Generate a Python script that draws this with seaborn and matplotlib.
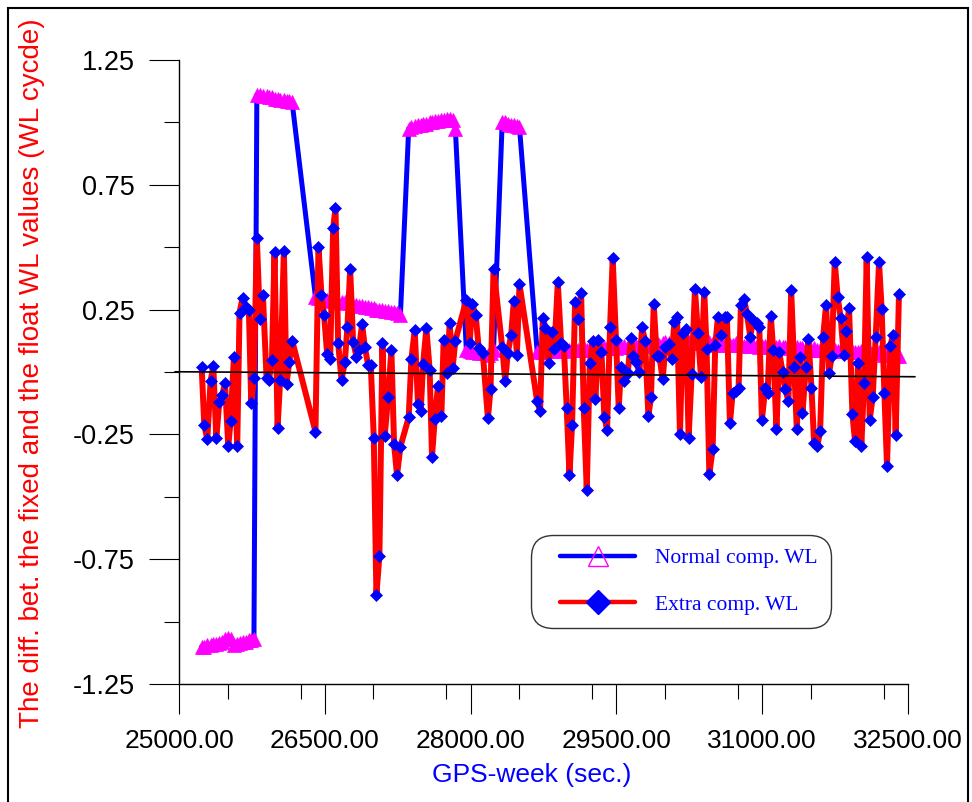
import matplotlib
matplotlib.use('Agg')
import matplotlib.pyplot as plt
import seaborn as sns
import pandas as pd
from matplotlib.lines import Line2D
from matplotlib.patches import Rectangle
from matplotlib.legend_handler import HandlerLine2D
from matplotlib.ticker import MultipleLocator, FixedLocator, FormatStrFormatter
from matplotlib import font_manager

# ---------------- data ----------------
gps_time = [
    25233, 25260, 25291, 25325, 25353, 25384, 25414, 25445, 25473, 25507, 25531, 25565, 25599, 25623, 25654, 25688, 25719, 25743, 25771,
    25801, 25832, 25863, 25901, 25925, 25956, 25983, 26014, 26041, 26079, 26106, 26134, 26164,
    26404, 26435, 26466, 26493, 26524, 26555, 26586, 26610, 26637,
    26672, 26706, 26733, 26761, 26791, 26826, 26850, 26884, 26911, 26946, 26973, 27004, 27031, 27062, 27093, 27117, 27151, 27185, 27213, 27243, 27278,
    27363, 27391, 27425, 27459, 27487, 27511, 27545, 27579, 27603, 27631, 27665, 27699, 27723, 27757, 27785, 27815, 27843,
    27956, 27990, 28017, 28052, 28083,
    28126, 28178, 28205, 28236,
    28325, 28356, 28383, 28417, 28445, 28476, 28503,
    28685, 28715, 28743, 28770, 28804, 28835, 28863, 28897, 28931, 28959, 28989, 29017, 29044, 29075, 29106, 29137, 29164, 29195, 29226, 29257,
    29284, 29315, 29346, 29376, 29404, 29435, 29462, 29496, 29524,
    29548, 29582, 29617, 29651, 29675, 29702, 29737, 29764, 29795, 29829, 29856, 29884, 29915, 29942, 29976, 30004, 30038, 30069, 30096, 30124,
    30154, 30182, 30216, 30243, 30274, 30308, 30339, 30370, 30404, 30428, 30456, 30490, 30517, 30545, 30579, 30613, 30637, 30668, 30696, 30730,
    30757, 30781, 30815, 30843, 30877, 30908, 30942, 30970, 30997,
    31031, 31055, 31089, 31113, 31147, 31175, 31209, 31236, 31270, 31298, 31329, 31356, 31387, 31414, 31449, 31476, 31507, 31534, 31568, 31596,
    31627, 31657, 31688, 31716, 31746, 31777, 31808, 31839, 31866, 31894, 31928, 31955, 31986, 32020, 32048, 32075, 32106, 32137, 32168, 32202,
    32229, 32257, 32284, 32318, 32346, 32373, 32407,
]

extra_wl = [
    0.021, -0.212, -0.270, -0.036, 0.024, -0.266, -0.122, -0.092, -0.045, -0.296, -0.195, 0.061, -0.296, 0.238, 0.298, 0.262, 0.248, -0.126, -0.025,
    0.536, 0.212, 0.310, -0.025, -0.032, 0.048, 0.482, -0.223, -0.032, 0.486, -0.049, 0.039, 0.126,
    -0.239, 0.502, 0.308, 0.228, 0.072, 0.051, 0.576, 0.658, 0.118,
    -0.032, 0.041, 0.182, 0.413, 0.122, 0.061, 0.088, 0.192, 0.101, 0.028, 0.028, -0.263, -0.893, -0.736, 0.115, -0.255, -0.101, 0.088, -0.290, -0.413, -0.299,
    -0.182, 0.052, 0.167, -0.128, -0.156, 0.031, 0.175, 0.008, -0.339, -0.188, -0.056, -0.176, 0.128, -0.005, 0.195, 0.015, 0.126,
    0.288, 0.115, 0.271, 0.228, 0.097,
    0.075, -0.186, -0.068, 0.413,
    0.101, -0.036, 0.077, 0.148, 0.284, 0.067, 0.351,
    -0.118, -0.156, 0.218, 0.175, 0.037, 0.162, 0.092, 0.359, 0.115, 0.106, -0.146, -0.413, -0.212, 0.279, 0.212, 0.315, -0.146, -0.473, 0.035, 0.126,
    -0.110, 0.128, 0.081, -0.179, -0.232, 0.182, 0.455, 0.128, -0.143,
    0.021, -0.036, -0.003, 0.138, 0.065, 0.039, -0.001, 0.179, 0.124, -0.176, -0.101, 0.271, 0.065, 0.065, -0.029, 0.101, 0.112, 0.051, 0.199, 0.219,
    -0.250, 0.158, 0.171, -0.263, -0.008, 0.331, 0.155, -0.019, 0.322, 0.092, -0.409, -0.310, 0.108, 0.222, 0.148, 0.219, 0.219, -0.206, -0.083, -0.075,
    -0.065, 0.268, 0.291, 0.231, 0.142, 0.208, 0.195, 0.182, -0.192,
    -0.065, -0.085, 0.224, 0.088, -0.230, 0.079, 0.001, -0.069, -0.116, 0.329, 0.021, -0.230, 0.059, -0.166, 0.019, 0.132, -0.063, -0.283, -0.296, -0.236,
    0.142, 0.268, -0.005, 0.065, 0.442, 0.299, 0.215, 0.068, 0.166, 0.255, -0.170, -0.276, 0.035, -0.296, -0.043, 0.459, -0.192, -0.099, 0.142, 0.439,
    0.252, -0.083, -0.377, 0.106, 0.148, -0.252, 0.312,
]

normal_wl = [
    -1.10, -1.10, -1.095, -1.095, -1.09, -1.09, -1.085, -1.08, -1.07, -1.065, -1.07, -1.095, -1.09, -1.085, -1.08, -1.08, -1.075, -1.075, -1.07,
    1.11, 1.11, 1.105, 1.105, 1.10, 1.10, 1.095, 1.095, 1.09, 1.09, 1.085, 1.085, 1.08,
    0.30, 0.295, 0.295, 0.29, 0.29, 0.29, 0.285, 0.285, 0.28,
    0.28, 0.28, 0.275, 0.275, 0.27, 0.27, 0.265, 0.265, 0.26, 0.26, 0.255, 0.255, 0.25, 0.25, 0.25, 0.245, 0.245, 0.24, 0.24, 0.235, 0.23,
    0.975, 0.98, 0.985, 0.99, 0.99, 0.995, 0.995, 1.0, 1.0, 1.005, 1.005, 1.01, 1.01, 1.015, 1.015, 1.01, 0.975,
    0.09, 0.085, 0.08, 0.08, 0.075,
    0.075, 0.07, 0.075, 0.09,
    1.0, 1.0, 0.995, 0.99, 0.99, 0.985, 0.98,
    0.08, 0.085, 0.08, 0.085, 0.09, 0.085, 0.09, 0.085, 0.09, 0.09, 0.085, 0.09, 0.09, 0.095, 0.09, 0.09, 0.095, 0.09, 0.095, 0.095,
    0.09, 0.095, 0.095, 0.10, 0.095, 0.095, 0.10, 0.095, 0.10,
    0.10, 0.105, 0.10, 0.105, 0.10, 0.105, 0.11, 0.105, 0.11, 0.105, 0.11, 0.11, 0.115, 0.11, 0.115, 0.12, 0.115, 0.12, 0.115, 0.12,
    0.12, 0.115, 0.12, 0.12, 0.115, 0.12, 0.115, 0.12, 0.115, 0.115, 0.12, 0.115, 0.115, 0.11, 0.115, 0.11, 0.115, 0.11, 0.11, 0.115,
    0.11, 0.11, 0.105, 0.11, 0.105, 0.11, 0.105, 0.10, 0.105,
    0.105, 0.10, 0.105, 0.10, 0.10, 0.105, 0.10, 0.10, 0.095, 0.10, 0.095, 0.10, 0.095, 0.095, 0.09, 0.095, 0.09, 0.095, 0.09, 0.09,
    0.095, 0.09, 0.09, 0.085, 0.09, 0.085, 0.09, 0.085, 0.085, 0.08, 0.085, 0.08, 0.08, 0.085, 0.08, 0.075, 0.08, 0.075, 0.075, 0.08,
    0.075, 0.07, 0.075, 0.07, 0.07, 0.065, 0.065,
]

zero_line_x = [24959, 32572]
zero_line_y = [0.001, -0.019]

x_ticks = [25000, 26500, 28000, 29500, 31000, 32500]
y_ticks = [-1.25, -0.75, -0.25, 0.25, 0.75, 1.25]
y_minor = [-1.0, -0.5, 0.0, 0.5, 1.0]

series_labels = ["Normal comp. WL", "Extra comp. WL"]
x_label = "GPS-week (sec.)"
y_label = "The diff. bet. the fixed and the float WL values (WL cycde)"

# ---------------- style ----------------
sns.set_style('ticks')
plt.rcParams['font.family'] = ['Liberation Sans', 'DejaVu Sans']
plt.rcParams['axes.unicode_minus'] = False

names = {f.name for f in font_manager.fontManager.ttflist}
narrow = 'Liberation Sans Narrow' if 'Liberation Sans Narrow' in names else 'Liberation Sans'

fig = plt.figure(figsize=(9.72, 8.02), dpi=100)
ax = fig.add_axes([179 / 972, 1 - 684 / 802, 729 / 972, 624 / 802])

df_n = pd.DataFrame({'t': gps_time, 'v': normal_wl})
df_e = pd.DataFrame({'t': gps_time, 'v': extra_wl})

sns.lineplot(data=df_n, x='t', y='v', ax=ax, color='blue', linewidth=3.6,
             marker='^', markersize=9.5, markerfacecolor='magenta',
             markeredgecolor='magenta', markeredgewidth=0.5,
             sort=False, estimator=None, legend=False, zorder=2)
sns.lineplot(data=df_e, x='t', y='v', ax=ax, color='red', linewidth=4.3,
             marker='D', markersize=6.3, markerfacecolor='blue',
             markeredgecolor='blue', markeredgewidth=0.5,
             sort=False, estimator=None, legend=False, zorder=3)

ax.plot(zero_line_x, zero_line_y, color='black', lw=1.2, clip_on=False, zorder=4)

ax.set_xlim(25000, 32500)
ax.set_ylim(-1.25, 1.25)
ax.xaxis.set_major_locator(FixedLocator(x_ticks))
ax.xaxis.set_minor_locator(MultipleLocator(750))
ax.yaxis.set_major_locator(FixedLocator(y_ticks))
ax.yaxis.set_minor_locator(FixedLocator(y_minor))
ax.xaxis.set_major_formatter(FormatStrFormatter('%.2f'))
ax.yaxis.set_major_formatter(FormatStrFormatter('%.2f'))

for s in ['top', 'right']:
    ax.spines[s].set_visible(False)
for s in ['left', 'bottom']:
    ax.spines[s].set_color('black')
    ax.spines[s].set_linewidth(1.0)

ax.tick_params(which='major', length=21.6, width=0.8, color='black', direction='out')
ax.tick_params(which='minor', length=10.8, width=0.8, color='black', direction='out')
ax.tick_params(axis='y', which='major', labelsize=19.5, pad=10.5, labelcolor='black')
ax.tick_params(axis='x', which='major', labelsize=19, pad=11, labelcolor='black')
for lab in ax.get_xticklabels():
    lab.set_fontfamily(narrow)

ax.set_xlabel(x_label, color='blue', fontsize=19, family=narrow)
ax.xaxis.set_label_coords((531.5 - 179) / 729, (684 - 763) / 624)
ax.set_ylabel(y_label, color='red', fontsize=20, family=narrow)
ax.yaxis.set_label_coords((45 - 179) / 729, (684 - 373.5) / 624)

handles = [
    Line2D([], [], color='blue', lw=3.2, marker='^', markersize=15,
           markerfacecolor='none', markeredgecolor='magenta', markeredgewidth=1.0),
    Line2D([], [], color='red', lw=3.2, marker='D', markersize=12.5,
           markerfacecolor='blue', markeredgecolor='blue'),
]
hmap = {h: HandlerLine2D(xpad=0.74) for h in handles}
leg = ax.legend(handles, series_labels, loc='center', handler_map=hmap,
                bbox_to_anchor=((681 - 179) / 729, (684 - 581.5) / 624),
                prop={'family': 'Liberation Serif', 'size': 15.5},
                labelcolor='blue', handlelength=4.23, handletextpad=0.93,
                labelspacing=1.25, borderpad=0.6, borderaxespad=0,
                fancybox=True, framealpha=1, facecolor='white', edgecolor='#333333')
leg.get_frame().set_linewidth(1.0)
leg.get_frame().set_boxstyle('round', pad=0, rounding_size=1.0)

fig.patches.append(Rectangle((8 / 972, -0.05), (968 - 8) / 972, 1.04, transform=fig.transFigure,
                             fill=False, edgecolor='black', lw=1.5))

fig.savefig('out.png', dpi=100)
